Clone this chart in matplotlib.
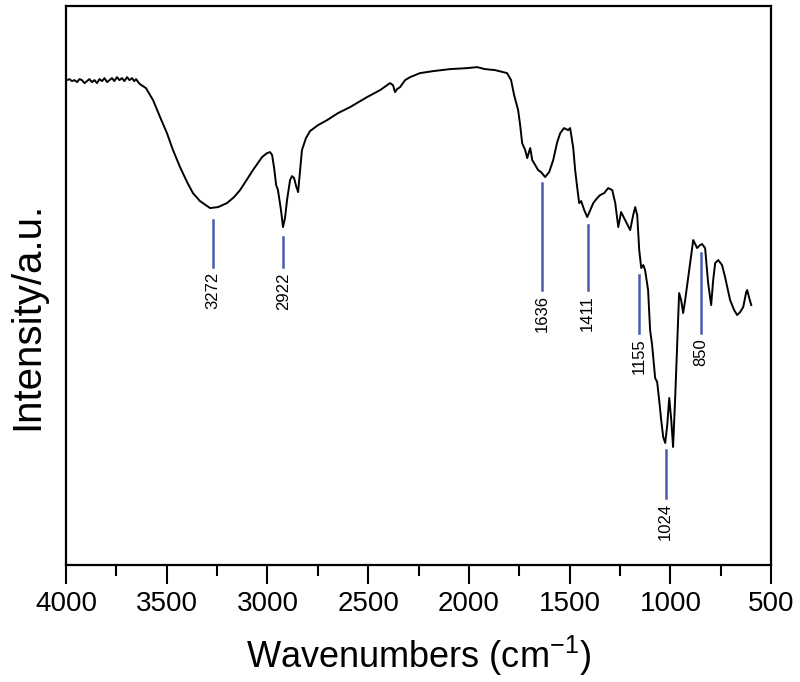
import matplotlib
matplotlib.use("Agg")
import matplotlib.pyplot as plt
from matplotlib.ticker import MultipleLocator

plt.rcParams["font.family"] = ["Liberation Sans", "DejaVu Sans"]
plt.rcParams["mathtext.default"] = "regular"

# espectro (número de onda em cm-1, intensidade em u.a.)
numero_onda = [
    3995, 3983, 3970, 3958, 3945, 3933, 3921, 3908, 3896, 3884, 3871, 3859,
    3846, 3834, 3821, 3809, 3796, 3784, 3772, 3760, 3747, 3735, 3722, 3710,
    3697, 3685, 3672, 3662, 3652, 3642, 3633, 3603, 3568, 3533, 3499, 3469,
    3434, 3399, 3370,
    3335, 3285, 3245, 3201, 3166, 3136, 3072, 3027, 3002, 2987, 2977, 2967,
    2957, 2948, 2933, 2923, 2913, 2903, 2888, 2878, 2868, 2858, 2848, 2838,
    2829, 2809, 2789, 2749, 2704, 2650, 2590, 2506, 2441, 2392, 2377, 2367,
    2357, 2342, 2317, 2292, 2243, 2178, 2094, 2009, 1960, 1920, 1870, 1811,
    1791, 1776, 1756, 1746, 1736, 1721, 1711, 1701, 1696, 1686, 1671, 1657,
    1642, 1622, 1602, 1582, 1562, 1547, 1528, 1508, 1498, 1483, 1473, 1463,
    1453, 1443, 1428, 1413, 1398, 1383, 1364, 1349, 1329, 1309, 1289, 1274,
    1259, 1245, 1230, 1210, 1200, 1185, 1175, 1165, 1155, 1145, 1135, 1126,
    1111, 1101, 1091, 1076, 1066, 1056, 1046, 1036, 1026, 1016, 1006, 996,
    987, 977, 967, 957, 947, 937, 927, 917, 902, 887, 877, 868, 853, 843,
    828, 813, 798, 788, 778, 763, 744, 729, 704, 684, 669, 654, 639, 624,
    619, 609, 599,
]
intensidade = [
    485, 486, 484, 485, 483, 486, 485, 482, 484, 486, 483, 485,
    482, 486, 484, 487, 483, 485, 487, 484, 488, 485, 487, 484,
    488, 485, 487, 484, 486, 483, 481, 477, 465, 448, 432, 415,
    398, 383, 372,
    364, 357, 358, 362, 368, 375, 395, 408, 412, 413, 410, 397,
    380, 375, 355, 338, 347, 365, 385, 389, 387, 379, 373, 395,
    415, 427, 434, 440, 445, 452, 458, 468, 475, 482, 480, 473,
    476, 478, 485, 488, 492, 494, 496, 497, 498, 496, 495, 492,
    485, 470, 455, 440, 422, 415, 407, 414, 417, 405, 400, 395,
    393, 388, 393, 405, 423, 432, 437, 435, 437, 418, 395, 378,
    362, 364, 355, 348, 355, 362, 367, 370, 372, 377, 375, 362,
    338, 353, 347, 339, 335, 350, 358, 350, 315, 297, 300, 295,
    275, 235, 220, 187, 183, 165, 145, 128, 122, 140, 167, 145,
    118, 165, 220, 272, 265, 252, 265, 280, 303, 325, 321, 317, 320, 321,
    317, 282, 260, 285, 302, 305, 300, 288, 265, 255, 250, 253, 258, 273,
    275, 267, 260,
]

# bandas marcadas: posição, topo e base do traço azul
bandas = [3272, 2922, 1636, 1411, 1155, 850, 1024]
traco_topo = [345, 328, 382, 340, 290, 312, 115]
traco_base = [298, 298, 275, 275, 232, 232, 67]

AZUL = "#4A5BAE"

fig = plt.figure(figsize=(8, 6.82), dpi=100)
ax = fig.add_axes([0.0825, 0.1716, 0.8815, 0.8194])

ax.plot(numero_onda, intensidade, color="black", linewidth=1.4)

for b, topo, base in zip(bandas, traco_topo, traco_base):
    ax.plot([b, b], [base, topo], color=AZUL, linewidth=1.8)
    ax.text(b, base - 5, str(b), rotation=90, ha="center", va="top",
            fontsize=12, color="black")

ax.set_xlim(4000, 500)
ax.set_ylim(0, 559)
ax.xaxis.set_major_locator(MultipleLocator(500))
ax.xaxis.set_minor_locator(MultipleLocator(250))
ax.set_yticks([])
ax.tick_params(axis="x", which="major", direction="out", length=14,
               width=1.5, labelsize=20, pad=5)
ax.tick_params(axis="x", which="minor", direction="out", length=8, width=1.5)
for s in ax.spines.values():
    s.set_linewidth(1.6)

ax.set_xlabel("Wavenumbers (cm$^{-1}$)", fontsize=26, labelpad=12)
ax.set_ylabel("Intensity/a.u.", fontsize=29)
ax.yaxis.set_label_coords(-0.028, 0.445)

fig.savefig("out.png", dpi=100, facecolor="white")
